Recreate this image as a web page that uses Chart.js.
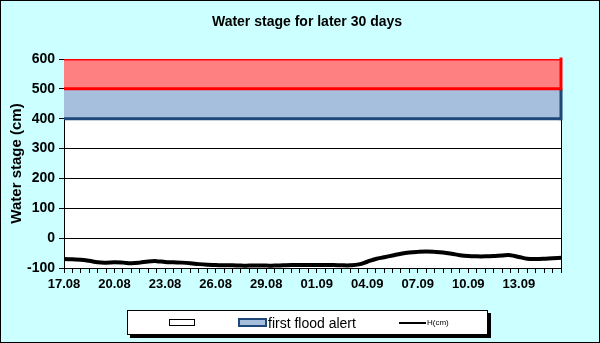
<!DOCTYPE html>
<html>
<head>
<meta charset="utf-8">
<script src="https://cdn.jsdelivr.net/npm/chart.js@4"></script>
<style>
  html, body { margin: 0; padding: 0; background: #CCFFFF; }
  #wrap { position: relative; width: 600px; height: 343px; background: #CCFFFF; }
  #chartBox { position: absolute; left: 0; top: 0; width: 600px; height: 343px; }
  #frame { position: absolute; left: 0; top: 0; width: 600px; height: 343px; box-sizing: border-box; border: 1px solid #000; pointer-events: none; }
  #title { position: absolute; left: 207px; width: 200px; top: 13px; text-align: center; font: bold 14px "Liberation Sans", Arial, sans-serif; color: #000; white-space: nowrap; }
  #legend { position: absolute; left: 127px; top: 310px; width: 359px; height: 23px; background: #fff; border: 1px solid #000; box-shadow: 3px 3px 0 #000; font-family: "Liberation Sans", Arial, sans-serif; }
  .item { position: absolute; top: 0; height: 23px; display: flex; align-items: center; }
  .emptyBox { width: 24px; height: 5px; border: 1px solid #000; background: #fff; }
  .alertBox { width: 25px; height: 5px; border: 2px solid #1F4778; background: #A6BFDD; }
  .lineKey { width: 27px; height: 2px; background: #000; }
</style>
</head>
<body>
<div id="wrap">
  <div id="chartBox"><canvas id="stageChart"></canvas></div>
  <div id="title">Water stage for later 30 days</div>
  <div id="legend">
    <div class="item" style="left:41px"><div class="emptyBox"></div></div>
    <div class="item" style="left:110px"><div class="alertBox"></div><span style="font-size:14px;margin-left:1px">first flood alert</span></div>
    <div class="item" style="left:271px"><div class="lineKey"></div><span style="font-size:8px;margin-left:1px">H(cm)</span></div>
  </div>
  <div id="frame"></div>
</div>
<script>
// days shown on the x axis, two readings per day (00h and 12h)
const days = ['17.08', '18.08', '19.08', '20.08', '21.08', '22.08', '23.08', '24.08', '25.08', '26.08',
              '27.08', '28.08', '29.08', '30.08', '31.08', '01.09', '02.09', '03.09', '04.09', '05.09',
              '06.09', '07.09', '08.09', '09.09', '10.09', '11.09', '12.09', '13.09', '14.09', '15.09'];

// water stage H (cm), every 12 hours
const stage = [-70, -71, -72, -76, -81, -82, -81, -82, -84, -82,
               -78, -77, -80, -81, -82, -84, -87, -89, -90, -91,
               -91, -92, -92, -92, -92, -92, -91, -90, -90, -90,
               -90, -90, -90, -91, -91, -88, -79, -70, -64, -58,
               -52, -48, -46, -45, -46, -48, -52, -57, -60, -61,
               -61, -60, -58, -57, -63, -69, -70, -69, -67, -66];

// alert levels (cm)
const normalTop = 400;
const firstAlert = 500;
const secondAlert = 600;

const yTicks = { min: -100, max: 600, step: 100 };

const labels = [];
days.forEach(d => { labels.push(d); labels.push(d); });

const flat = v => labels.map(() => v);

// white plot area
const plotBg = {
    id: 'plotBg',
    beforeDraw(chart) {
        const { ctx, chartArea: a } = chart;
        ctx.save();
        ctx.fillStyle = '#fff';
        ctx.fillRect(a.left, a.top, a.right - a.left, a.bottom - a.top);
        ctx.restore();
    }
};

// frame on the right of plot area + vertical sides of the alert bands
const plotFrame = {
    id: 'plotFrame',
    afterDatasetsDraw(chart) {
        const { ctx, chartArea: a, scales: { y } } = chart;
        ctx.save();
        ctx.strokeStyle = '#000';
        ctx.lineWidth = 1;
        ctx.beginPath();
        ctx.moveTo(a.right + 0.5, a.top);
        ctx.lineTo(a.right + 0.5, a.bottom);
        ctx.stroke();
        ctx.lineWidth = 3;
        ctx.strokeStyle = '#1F4778';
        ctx.beginPath();
        ctx.moveTo(a.right, y.getPixelForValue(firstAlert));
        ctx.lineTo(a.right, y.getPixelForValue(normalTop) + 1.5);
        ctx.stroke();
        ctx.strokeStyle = '#FF0000';
        ctx.beginPath();
        ctx.moveTo(a.right, y.getPixelForValue(secondAlert) - 1.5);
        ctx.lineTo(a.right, y.getPixelForValue(firstAlert) + 1.5);
        ctx.stroke();
        ctx.restore();
    }
};

const font = { family: '"Liberation Sans", Arial, sans-serif', weight: 'bold' };

const stageChart = new Chart(document.getElementById('stageChart'), {
    type: 'line',
    data: {
        labels: labels,
        datasets: [{
            label: '',
            data: flat(normalTop),
            borderColor: '#1F4778',
            borderWidth: 3,
            pointRadius: 0,
            fill: false,
            order: 3
        }, {
            label: 'first flood alert',
            data: flat(firstAlert),
            borderColor: '#FF0000',
            backgroundColor: '#A6BFDD',
            borderWidth: 3,
            pointRadius: 0,
            fill: '-1',
            order: 2
        }, {
            label: '',
            data: flat(secondAlert),
            borderColor: '#FF0000',
            backgroundColor: '#FF8080',
            borderWidth: 3,
            pointRadius: 0,
            fill: '-1',
            order: 1
        }, {
            label: 'H(cm)',
            data: stage,
            borderColor: '#000',
            borderWidth: 4,
            pointRadius: 0,
            fill: false,
            tension: 0.4,
            order: 0
        }]
    },
    options: {
        responsive: true,
        maintainAspectRatio: false,
        animation: false,
        layout: { padding: { left: 0, right: 39, top: 59, bottom: 0 } },
        plugins: {
            legend: { display: false },
            tooltip: { enabled: false },
            title: { display: false },
            filler: { drawTime: 'beforeDatasetsDraw' }
        },
        scales: {
            x: {
                afterFit: s => { s.height = 75; },
                border: { color: '#000', width: 1 },
                grid: { drawOnChartArea: false, color: '#000', tickLength: 5 },
                ticks: {
                    autoSkip: false,
                    maxRotation: 0,
                    padding: 4,
                    color: '#000',
                    font: { ...font, size: 13 },
                    callback: (v, i) => (i % 6 === 0 ? labels[i] : '')
                }
            },
            y: {
                min: yTicks.min,
                max: yTicks.max,
                afterFit: s => { s.width = 64; },
                border: { color: '#000', width: 1 },
                grid: { color: '#000', tickLength: 5 },
                ticks: {
                    stepSize: yTicks.step,
                    padding: 4,
                    color: '#000',
                    font: { ...font, size: 14 }
                },
                title: {
                    display: true,
                    text: 'Water stage (cm)',
                    color: '#000',
                    font: { ...font, size: 15 },
                    padding: { top: 8, bottom: 0 }
                }
            }
        }
    },
    plugins: [plotBg, plotFrame]
});
</script>
</body>
</html>
